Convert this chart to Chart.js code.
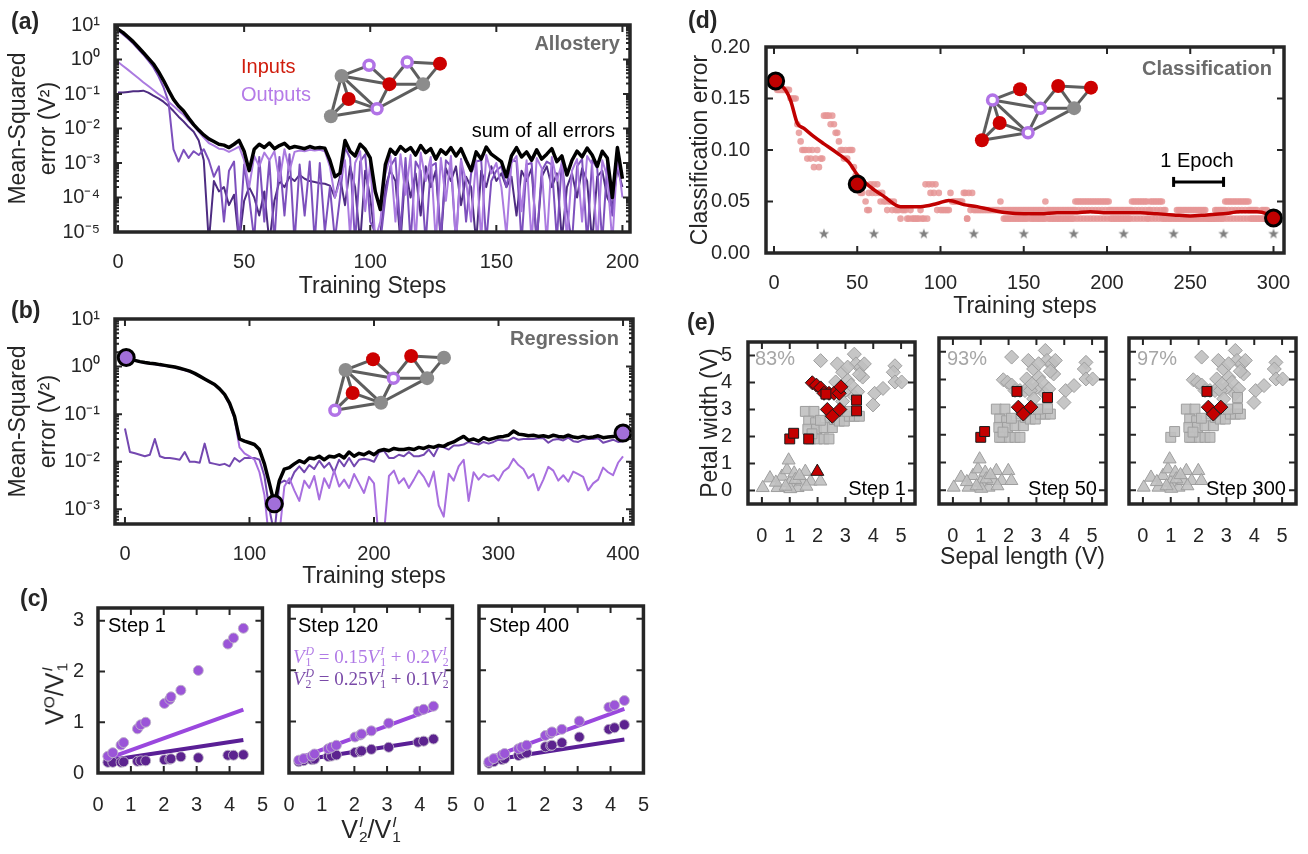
<!DOCTYPE html>
<html>
<head>
<meta charset="utf-8">
<script src="https://cdn.jsdelivr.net/npm/chart.js@4.4.1/dist/chart.umd.min.js"></script>
<style>
body{margin:0;background:#fff;width:1308px;height:854px;position:relative;overflow:hidden;font-family:"Liberation Sans",Arial,sans-serif;color:#262626}
canvas{position:absolute}
.t{position:absolute;white-space:nowrap;line-height:1}
.ss{display:inline-flex;flex-direction:column;font-size:0.62em;line-height:0.95;vertical-align:0.7em;margin-left:1px}
.eq{font-family:"Liberation Serif","DejaVu Serif",serif;font-size:19px}
</style>
</head>
<body>
<script>
// ---------- (a) allostery: errors every 2 training steps ----------
const sumA = [7.5,6,4.5,3.3,2.3,1.6,1.1,0.75,0.45,0.25,
  0.13,0.07,0.045,0.032,0.02,0.013,0.009,0.0065,0.005,0.0042,
  0.0035,0.0033,0.0028,0.0035,0.0045,0.0022,0.0006,0.0025,0.0035,0.0028,
  0.0038,0.0026,0.0032,0.0037,0.0027,0.003,0.0028,0.0026,0.003,0.0027,
  0.0028,0.0027,0.0012,0.0004,0.0005,0.0045,0.0022,0.0016,0.0035,0.0025,
  0.0014,0.00015,0.000045,0.0009,0.0025,0.0018,0.003,0.0022,0.0028,0.0017,
  0.0032,0.002,0.0026,0.0013,0.0024,0.0018,0.0028,0.0016,0.0026,0.0012,
  0.0006,0.0021,0.0013,0.0029,0.0018,0.0014,0.0011,0.0004,0.0016,0.0028,
  0.0015,0.0021,0.0012,0.0024,0.0013,0.0018,0.0026,0.0011,0.0016,0.00045,
  0.0012,0.0022,0.0015,0.0027,0.0017,0.0008,0.0022,0.0014,0.0001,0.0028,
  0.00035];
const lightA = [0.85,0.65,0.5,0.38,0.29,0.22,0.17,0.13,0.1,0.08,
  0.06,0.045,0.033,0.025,0.017,0.012,0.008,0.0055,0.0038,0.0032,
  0.0026,0.0025,0.0021,0.0025,0.003,0.0012,0.0002,0.0016,0.0008,0.002,
  0.0012,0.0022,0.0003,0.0025,0.0006,0.0021,0.0023,0.0022,0.0024,0.0023,
  0.0024,0.0022,0.0008,0.0001,0.0003,0.0012,0.000008,0.001,0.0022,0.00004,
  0.001,0.000006,0.00002,0.0005,0.0016,0.00002,0.0018,0.00012,0.0017,0.000005,
  0.002,0.0003,0.0015,0.000005,0.0014,0.00008,0.0016,0.000004,0.0012,0.0003,
  0.00002,0.0012,0.000006,0.0017,0.0005,0.001,0.0002,0.000008,0.001,0.0016,
  0.00004,0.0012,0.000005,0.0014,0.0007,0.000005,0.0015,0.0003,0.001,0.000006,
  0.0006,0.0013,0.00002,0.0016,0.0009,0.000005,0.0012,0.0004,0.000005,0.0015,
  0.0001];
const midA = [7,5.3,4,2.9,2,1.4,0.92,0.6,0.33,0.16,
  0.06,0.0025,0.0011,0.0024,0.0014,0.0022,0.0017,0.0025,0.0012,0.0004,
  0.0008,0.00002,0.0006,0.0011,0.000005,0.0009,0.0001,0.000006,0.0015,0.00002,
  0.0012,0.000005,0.0015,0.00003,0.0018,0.000005,0.0009,0.00003,0.0011,0.000005,
  0.001,0.00001,0.0002,0.000006,0.0001,0.0028,0.0014,0.000005,0.0011,0.0018,
  0.00002,0.00001,0.000005,0.0001,0.0008,0.0014,0.00001,0.0014,0.000005,0.0011,
  0.0006,0.000005,0.0008,0.001,0.000006,0.0012,0.0008,0.000005,0.0013,0.00002,
  0.0005,0.0011,0.0012,0.000005,0.0003,0.0006,0.0008,0.0002,0.0012,0.0011,
  0.000005,0.0009,0.001,0.000005,0.0006,0.0011,0.0009,0.000006,0.0012,0.00004,
  0.000005,0.0008,0.0013,0.000005,0.0012,0.0007,0.000005,0.001,0.00003,0.0012,
  0.0005];
const darkA = [0.11,0.11,0.115,0.12,0.12,0.125,0.11,0.09,0.075,0.06,
  0.045,0.032,0.022,0.016,0.011,0.008,0.0045,0.0012,0.000005,0.0003,
  0.00015,0.0002,0.00006,0.00012,0.000005,0.00008,0.0002,0.0001,0.00003,0.00015,
  0.000005,0.00008,0.0003,0.0002,0.0004,0.0003,0.00045,0.00035,0.0003,0.00028,
  0.00026,0.00025,0.00022,0.0001,0.0004,0.00006,0.0008,0.0002,0.000005,0.0006,
  0.0001,0.000005,0.000008,0.0002,0.0006,0.0003,0.000005,0.0007,0.0001,0.0005,
  0.00003,0.0008,0.0002,0.0006,0.000005,0.0007,0.0003,0.0008,0.00006,0.0004,
  0.0002,0.000005,0.0006,0.0002,0.0008,0.0003,0.0005,0.0002,0.0004,0.00003,
  0.0006,0.0003,0.0007,0.000005,0.0004,0.0008,0.0002,0.0005,0.000006,0.0002,
  0.0005,0.0001,0.0007,0.0003,0.000005,0.0004,0.0006,0.0001,0.00005,0.0007,
  0.0002];

// ---------- (b) regression: errors every 4 training steps ----------
const sumB = [1.6,1.45,1.35,1.27,1.22,1.18,1.15,1.1,1.06,1.02,
  0.98,0.92,0.86,0.8,0.72,0.63,0.55,0.48,0.42,0.34,
  0.26,0.17,0.09,0.03,0.027,0.025,0.023,0.018,0.009,0.0035,
  0.0013,0.004,0.007,0.0075,0.009,0.0105,0.0095,0.012,0.0115,0.013,
  0.011,0.013,0.0125,0.014,0.012,0.016,0.013,0.015,0.014,0.016,
  0.014,0.017,0.018,0.017,0.019,0.018,0.018,0.019,0.018,0.02,
  0.019,0.021,0.02,0.022,0.021,0.024,0.026,0.03,0.034,0.028,
  0.03,0.027,0.032,0.029,0.031,0.033,0.034,0.036,0.044,0.038,
  0.037,0.035,0.036,0.034,0.035,0.033,0.036,0.034,0.033,0.036,
  0.033,0.032,0.034,0.032,0.033,0.035,0.032,0.033,0.034,0.035,
  0.04];
const lightB = [1.57,1.42,1.32,1.24,1.19,1.15,1.12,1.07,1.04,1.0,
  0.96,0.9,0.84,0.78,0.7,0.62,0.54,0.47,0.41,0.33,
  0.25,0.16,0.08,0.02,0.015,0.013,0.011,0.006,0.002,0.0002,
  0.0001,0.0003,0.003,0.0045,0.0025,0.0015,0.004,0.0028,0.005,0.0016,
  0.0045,0.0028,0.0065,0.003,0.0042,0.0028,0.0055,0.0035,0.0022,0.0048,
  0.0035,0.0002,0.0003,0.005,0.0065,0.0035,0.0045,0.0028,0.0042,0.0065,
  0.0048,0.003,0.0062,0.0012,0.0007,0.0056,0.004,0.008,0.011,0.0015,
  0.006,0.0042,0.0055,0.0048,0.0052,0.004,0.0062,0.0075,0.0115,0.0085,
  0.007,0.0045,0.0055,0.0025,0.0042,0.0078,0.0065,0.004,0.0052,0.0038,
  0.0062,0.0055,0.0048,0.0025,0.0035,0.0042,0.0075,0.006,0.0052,0.0095,
  0.013];
const darkB = [0.05,0.016,0.015,0.014,0.013,0.014,0.03,0.013,0.012,0.012,
  0.0115,0.011,0.016,0.01,0.01,0.0095,0.024,0.0095,0.009,0.0085,
  0.009,0.008,0.012,0.01,0.012,0.012,0.012,0.011,0.005,0.001,
  0.0003,0.0035,0.004,0.0035,0.006,0.008,0.006,0.0085,0.007,0.0105,
  0.0075,0.0095,0.006,0.011,0.008,0.012,0.008,0.011,0.0115,0.011,
  0.01,0.016,0.017,0.012,0.012,0.014,0.013,0.016,0.013,0.013,
  0.014,0.018,0.013,0.021,0.02,0.018,0.022,0.022,0.023,0.026,
  0.024,0.023,0.026,0.024,0.026,0.029,0.028,0.028,0.032,0.029,
  0.03,0.03,0.03,0.031,0.031,0.025,0.029,0.03,0.028,0.032,
  0.027,0.026,0.029,0.03,0.03,0.031,0.025,0.027,0.029,0.026,
  0.027];
const markStepsB = [1, 120, 400];
const markErrB = [1.55, 0.0013, 0.04];

// ---------- (c) output ratios vs input ratio ----------
const ratioC = [0.3,0.45,0.7,0.78,1.2,1.3,1.45,2.02,2.18,2.22,2.52,3.05,3.95,4.12,4.42];
const out1Step1 = [0.33,0.4,0.55,0.6,0.87,0.95,1.0,1.37,1.45,1.5,1.63,2.02,2.54,2.66,2.85];
const out2Step1 = [0.21,0.21,0.21,0.22,0.23,0.24,0.24,0.26,0.27,0.28,0.32,0.3,0.35,0.35,0.36];
const out1Step120 = [0.25,0.28,0.33,0.37,0.47,0.5,0.54,0.7,0.74,0.76,0.82,0.97,1.2,1.24,1.3];
const out2Step120 = [0.22,0.24,0.26,0.27,0.32,0.33,0.35,0.4,0.42,0.43,0.46,0.5,0.6,0.62,0.66];
const out1Step400 = [0.22,0.28,0.35,0.38,0.47,0.5,0.54,0.73,0.77,0.8,0.85,1.01,1.28,1.32,1.41];
const out2Step400 = [0.19,0.22,0.26,0.28,0.34,0.37,0.39,0.51,0.53,0.54,0.59,0.7,0.85,0.88,0.94];
const targetX = [0.35, 4.42];
const target1 = [0.3, 1.25];
const target2 = [0.25, 0.65];

// ---------- (d) classification: misclassified of 120 per step ----------
const testSize = 120;
const wrongA = [
  20,20,19,19,19,19,19,19,19,19,18,18,18,18,15,14,13,12,12,12,11,12,11,12,10,11,12,10,11,11,
  16,16,16,16,15,16,15,14,14,13,12,12,11,12,11,12,12,12,10,9,8,8,7,7,8,6,5,7,8,7,
  8,7,8,7,6,7,6,6,5,6,6,5,6,5,5,5,4,5,5,5,4,4,5,4,4,4,4,4,5,4,
  4,8,4,8,7,8,7,8,5,7,5,5,5,5,5,5,7,6,6,6,6,6,6,6,7,7,4,7,5,7,
  5,5,5,5,5,5,5,5,5,5,5,5,5,5,5,5,6,5,5,5,5,5,5,5,5,5,5,5,5,5,
  5,5,5,5,5,5,5,5,5,5,5,5,5,6,5,5,5,5,5,5,5,5,5,5,5,5,5,5,5,5,
  5,6,6,6,6,6,6,6,6,6,6,6,6,6,6,6,6,6,6,6,6,6,5,5,5,5,5,5,5,5,
  5,5,5,5,5,6,6,6,6,6,6,6,6,6,6,5,6,6,6,6,6,6,6,6,5,5,4,4,4,4,
  4,4,5,5,5,5,5,5,5,5,5,5,5,5,5,5,5,5,5,5,4,4,4,4,4,5,5,5,5,5,
  5,6,6,6,6,6,6,6,6,6,6,6,6,6,6,6,5,5,5,5,5,4,4,4,4,4,4,4,4,4,4];
const N = null;
const wrongB = [
  N,N,N,N,N,N,N,N,N,N,N,N,N,N,N,N,N,N,N,N,N,N,N,N,N,N,N,N,N,N,
  N,N,N,N,N,N,N,N,N,N,N,N,N,N,N,N,N,N,N,N,N,N,N,N,N,N,N,5,N,N,
  N,N,N,N,N,N,N,N,N,N,N,N,N,N,N,N,N,N,N,N,N,N,N,N,N,N,N,N,N,N,
  N,N,N,N,N,N,N,N,N,N,N,N,N,N,N,N,N,N,N,N,N,N,N,N,N,N,4,N,N,N,
  N,N,N,N,N,N,N,N,N,N,N,N,N,N,N,N,N,N,4,4,4,4,4,4,4,4,4,4,4,4,
  4,4,4,N,4,4,4,4,4,4,4,4,4,4,N,4,4,4,4,4,4,4,4,4,4,4,4,4,4,4,
  4,5,4,5,4,5,4,5,4,5,4,5,4,5,4,5,4,5,4,5,4,5,4,4,4,4,4,4,4,4,
  4,4,4,4,4,5,4,5,4,5,4,5,4,5,4,4,5,4,5,4,5,4,5,4,4,4,N,N,N,N,
  N,N,4,4,4,4,4,4,4,4,4,4,4,4,4,4,4,4,4,4,N,4,4,N,4,4,4,4,4,4,
  4,5,4,5,4,5,4,5,4,5,4,5,4,5,4,5,4,4,4,4,4,N,N,5,5,5,5,N,N,N,N];
const avgSteps = [0,3,7,10,14,18,24,30,38,45,50,58,66,76,88,98,105,114,122,130,140,150,160,170,180,190,200,210,220,230,240,250,260,270,280,290,296,300];
const avgErr = [0.167,0.164,0.158,0.148,0.126,0.121,0.113,0.106,0.097,0.088,0.076,0.064,0.055,0.045,0.045,0.048,0.051,0.047,0.045,0.042,0.039,0.038,0.038,0.039,0.039,0.04,0.039,0.039,0.039,0.038,0.037,0.036,0.037,0.038,0.04,0.04,0.038,0.034];
const markStepsD = [1, 50, 300];
const markErrD = [0.167, 0.067, 0.034];
const epochSteps = [30,60,90,120,150,180,210,240,270,300];
const epochStarErr = [0.019,0.019,0.019,0.019,0.019,0.019,0.019,0.019,0.019,0.019];
const epochBarSteps = [240, 270];
const epochBarErr = [0.069, 0.069];

// ---------- (e) iris scatter, voltages ----------
const triX = [0.03,0.29,0.56,0.72,0.9,0.96,1.0,1.16,1.28,1.44,1.56,1.75,1.99,2.1,1.02,0.5,1.2,0.85,1.6,1.35];
const triY = [0.1,0.46,0.1,0.52,0.76,1.12,0.28,0.64,0.1,0.34,0.7,0.34,0.7,0.34,0.06,0.3,0.4,0.15,0.15,0.55];
const sqX = [1.56,1.87,1.68,1.93,1.65,1.96,2.23,1.75,1.99,2.23,2.41,2.53,2.6,2.78,2.96,3.14,3.32,3.5,3.08,1.0,1.14,1.68,3.4,3.4,2.3,1.8,2.1,2.45];
const sqY = [2.93,2.93,2.57,2.51,2.27,2.27,2.33,1.91,1.91,1.91,1.91,2.33,2.63,2.57,2.57,2.75,2.75,2.75,2.93,1.91,2.12,1.91,3.35,2.95,3.57,2.1,2.6,2.75];
const diaX = [2.11,2.71,2.9,3.08,3.32,3.38,3.56,3.62,2.65,2.78,3.02,3.2,3.32,3.44,4.05,3.99,4.35,4.78,4.72,4.78,5.02,3.08,3.68,1.81,1.96,2.11,2.23,2.41,2.59,2.78,2.84,2.35,2.53,2.8,3.5,2.9];
const diaY = [4.81,4.69,4.38,4.08,5.05,4.69,4.57,4.2,4.02,3.66,3.72,3.9,3.48,3.66,3.6,3.17,3.78,4.62,4.38,4.02,4.02,4.57,4.69,3.99,3.9,3.8,3.6,3.6,3.6,3.6,3.84,3.0,2.75,3.0,4.3,3.3];
const wrongTri1 = [12], wrongSq1 = [19,20,21,22,23,24], wrongDia1 = [23,24,25,26,27,28,29,30,31,32,33];
const wrongTri50 = [], wrongSq50 = [19,20,22,24], wrongDia50 = [31,32,33];
const wrongTri300 = [], wrongSq300 = [24], wrongDia300 = [31,32,33];

// ---------- network insets ----------
const netX = [16,47,90,127,70,108,24,56,4];
const netY = [21,8,4,6,31,31,49,61,70];
const netEdges = [[0,1],[1,4],[0,4],[0,6],[0,7],[0,8],[8,6],[8,7],[6,7],[4,7],[4,2],[2,5],[4,5],[2,3],[3,5],[7,5]];
const rolesA = ['h','o','o','i','i','h','i','o','h'];
const rolesB = ['h','i','i','h','o','h','i','h','o'];
const rolesD = ['o','i','i','i','o','h','i','o','i'];

// ---------- helpers ----------
Chart.defaults.font.family = '"Liberation Sans", Arial, sans-serif';
Chart.defaults.color = '#262626';

const range = (a, b, s) => { const r = []; for (let v = a; v <= b; v += s) r.push(v); return r; };
const pts = (xs, ys) => xs.map((x, i) => ({x, y: ys[i]})).filter(p => p.y != null);
const isPow10 = v => { const e = Math.log10(v); return Math.abs(e - Math.round(e)) < 1e-6; };
const SUP = {'-': '⁻', '0': '⁰', '1': '¹', '2': '²', '3': '³', '4': '⁴', '5': '⁵', '6': '⁶', '7': '⁷', '8': '⁸', '9': '⁹'};
const powLabel = v => isPow10(v) ? '10' + String(Math.round(Math.log10(v))).split('').map(c => SUP[c]).join('') : '';
const logTicks = (lo, hi, min) => {
  const out = [];
  for (let e = lo; e < hi; e++) for (let m = 1; m < 10; m++) out.push(m * Math.pow(10, e));
  out.push(Math.pow(10, hi));
  return out.filter(v => v >= min);
};

// inward MATLAB style ticks plus the box
const frameTicks = {
  id: 'frameTicks',
  afterDatasetsDraw(chart) {
    const {ctx, chartArea: a} = chart;
    const xs = chart.scales.x, ys = chart.scales.y;
    ctx.save();
    ctx.strokeStyle = '#262626';
    ctx.lineWidth = 2;
    ctx.beginPath();
    xs.ticks.forEach(t => {
      const p = xs.getPixelForValue(t.value), l = t.minor ? 4 : 7;
      ctx.moveTo(p, a.bottom); ctx.lineTo(p, a.bottom - l);
      ctx.moveTo(p, a.top); ctx.lineTo(p, a.top + l);
    });
    ys.ticks.forEach(t => {
      const p = ys.getPixelForValue(t.value), l = t.minor ? 4 : 7;
      ctx.moveTo(a.left, p); ctx.lineTo(a.left + l, p);
      ctx.moveTo(a.right, p); ctx.lineTo(a.right - l, p);
    });
    ctx.stroke();
    ctx.lineWidth = 3.5;
    ctx.strokeRect(a.left, a.top, a.right - a.left, a.bottom - a.top);
    ctx.restore();
  }
};

function axis(o) {
  return {
    type: o.type || 'linear', min: o.min, max: o.max,
    grid: {display: false}, border: {display: false},
    afterBuildTicks: s => { s.ticks = o.ticks.map(v => ({value: v, minor: o.type === 'logarithmic' && !isPow10(v)})); },
    afterFit: s => { if (s.isHorizontal()) s.height = o.size; else s.width = o.size; },
    ticks: {display: o.labels !== false, autoSkip: false, maxRotation: 0, padding: o.pad == null ? 8 : o.pad,
      font: {size: 20}, color: '#262626', callback: o.fmt || (v => String(v))},
    title: o.title ? {display: true, text: o.title, color: '#262626', padding: o.tpad || 0,
      font: {size: 23, lineHeight: o.lh || 1.15}} : {display: false}
  };
}

function makeCanvas(x, y, w, h) {
  const cv = document.createElement('canvas');
  cv.width = w; cv.height = h;
  cv.style.left = x + 'px'; cv.style.top = y + 'px';
  document.body.appendChild(cv);
  return cv;
}

function framePlot(box, datasets, xAxis, yAxis) {
  return new Chart(makeCanvas(box.x, box.y, box.w, box.h), {
    type: 'scatter',
    data: {datasets},
    options: {
      responsive: false, animation: false, devicePixelRatio: 1, events: [],
      layout: {padding: {left: 0, top: box.pt, right: box.pr, bottom: 0}},
      plugins: {legend: {display: false}, tooltip: {enabled: false}},
      scales: {x: axis(xAxis), y: axis(yAxis)}
    },
    plugins: [frameTicks]
  });
}

const lineSet = (xs, ys, color, width, order) => ({data: pts(xs, ys), showLine: true, borderColor: color,
  borderWidth: width, pointRadius: 0, order, borderJoinStyle: 'round'});
const dotSet = (xs, ys, color, r, order, extra) => Object.assign({data: pts(xs, ys), showLine: false,
  pointRadius: r, backgroundColor: color, borderWidth: 0, order}, extra || {});

function note(html, x, y, style, align) {
  const d = document.createElement('div');
  d.className = 't';
  d.innerHTML = html;
  d.style.cssText += style;
  d.style.left = x + 'px';
  d.style.top = y + 'px';
  const tx = align === 'r' ? '-100%' : (align === 'c' || align === 'rot') ? '-50%' : '0';
  d.style.transform = `translate(${tx}, -50%)` + (align === 'rot' ? ' rotate(-90deg)' : '');
  document.body.appendChild(d);
}

// ---------- (a) ----------
const stepsA = range(0, 200, 2);
framePlot({x: 0, y: 0, w: 660, h: 300, pt: 25, pr: 30}, [
  lineSet(stepsA, sumA, '#000000', 3.5, 0),
  lineSet(stepsA, midA, '#7d50bd', 2, 2),
  lineSet(stepsA, lightA, '#ab7be0', 2, 1),
  lineSet(stepsA, darkA, '#4e2c82', 2, 3)
], {min: -1.2, max: 203, ticks: [0, 50, 100, 150, 200], size: 68, pad: 10, title: 'Training Steps'},
   {type: 'logarithmic', min: 1e-5, max: 10, ticks: logTicks(-5, 1, 1e-5), size: 115, pad: 7, fmt: powLabel,
    title: ['Mean-Squared', 'error (V²)'], lh: 1.3, tpad: 4});

// ---------- (b) ----------
const stepsB = range(0, 400, 4);
framePlot({x: 0, y: 300, w: 660, h: 290, pt: 16, pr: 27}, [
  dotSet(markStepsB, markErrB, '#a16fd9', 8, 0, {borderColor: '#000', borderWidth: 3, clip: false}),
  lineSet(stepsB, sumB, '#000000', 3.5, 1),
  lineSet(stepsB, lightB, '#a86fdf', 2, 2),
  lineSet(stepsB, darkB, '#7448b0', 2, 3)
], {min: -8, max: 408, ticks: [0, 100, 200, 300, 400], size: 66, pad: 10, title: 'Training steps'},
   {type: 'logarithmic', min: 4.9e-4, max: 10, ticks: logTicks(-4, 1, 4.9e-4), size: 115, pad: 7, fmt: powLabel,
    title: ['Mean-Squared', 'error (V²)'], lh: 1.3, tpad: 4});

// ---------- (c) ----------
function ratioSets(o1, o2) {
  const edge = {borderColor: 'rgba(190,180,200,0.9)', borderWidth: 1};
  return [
    dotSet(ratioC, o1, '#9b55d8', 5, 0, edge),
    dotSet(ratioC, o2, '#5c238f', 5, 1, edge),
    lineSet(targetX, target1, '#9a48de', 4, 2),
    lineSet(targetX, target2, '#5a1f96', 4, 3)
  ];
}
const cx = {min: 0, max: 5, ticks: [0, 1, 2, 3, 4, 5], size: 81, pad: 12};
framePlot({x: 0, y: 590, w: 280, h: 264, pt: 16, pr: 13}, ratioSets(out1Step1, out2Step1), cx,
  {min: 0, max: 3.25, ticks: [0, 1, 2, 3], size: 98, pad: 6});
framePlot({x: 270, y: 590, w: 200, h: 264, pt: 16, pr: 14}, ratioSets(out1Step120, out2Step120), cx,
  {min: 0, max: 3.25, ticks: [0, 1, 2, 3], size: 19, labels: false});
framePlot({x: 460, y: 590, w: 201, h: 264, pt: 16, pr: 14}, ratioSets(out1Step400, out2Step400), cx,
  {min: 0, max: 3.25, ticks: [0, 1, 2, 3], size: 19, labels: false});

// ---------- (d) ----------
const starImg = document.createElement('canvas');
starImg.width = 12; starImg.height = 12;
{
  const g = starImg.getContext('2d');
  g.fillStyle = '#808080';
  g.beginPath();
  for (let i = 0; i < 10; i++) {
    const r = i % 2 ? 2.2 : 5.5, a = -Math.PI / 2 + i * Math.PI / 5;
    g.lineTo(6 + r * Math.cos(a), 6.5 + r * Math.sin(a));
  }
  g.closePath(); g.fill();
}
const stepsD = range(0, 300, 1);
framePlot({x: 680, y: 0, w: 628, h: 320, pt: 47, pr: 24}, [
  dotSet(markStepsD, markErrD, '#c00000', 8, 0, {borderColor: '#000', borderWidth: 3, clip: false}),
  Object.assign(lineSet(epochBarSteps, epochBarErr, '#000', 3, 0),
    {pointStyle: 'line', pointRotation: 90, pointRadius: 5, pointBorderWidth: 3, pointBorderColor: '#000'}),
  Object.assign(lineSet(avgSteps, avgErr, '#c00000', 3.5, 1), {cubicInterpolationMode: 'monotone'}),
  dotSet(epochSteps, epochStarErr, '#808080', 6, 2, {pointStyle: starImg}),
  dotSet(stepsD, wrongA.map(c => c / testSize), 'rgba(230,150,150,0.85)', 3.3, 3),
  dotSet(stepsD, wrongB.map(c => c == null ? null : c / testSize), 'rgba(230,150,150,0.85)', 3.3, 4)
], {min: -4.8, max: 306.3, ticks: [0, 50, 100, 150, 200, 250, 300], size: 67, pad: 10, title: 'Training steps'},
   {min: 0, max: 0.2, ticks: [0, 0.05, 0.1, 0.15, 0.2], size: 86, pad: 8, fmt: v => v.toFixed(2),
    title: 'Classification error', tpad: 7});

// ---------- (e) ----------
function irisSets(wTri, wSq, wDia) {
  const sets = [];
  const add = (xs, ys, wrong, style, r) => {
    const gray = [], red = [];
    xs.forEach((x, i) => (wrong.includes(i) ? red : gray).push({x, y: ys[i]}));
    sets.push({data: gray, pointStyle: style, pointRadius: r, backgroundColor: 'rgba(192,192,192,0.9)',
      borderColor: '#9e9e9e', borderWidth: 1, order: 2});
    sets.push({data: red, pointStyle: style, pointRadius: r, backgroundColor: '#c40000',
      borderColor: '#1a1a1a', borderWidth: 1, order: 1});
  };
  add(triX, triY, wTri, 'triangle', 7.5);
  add(sqX, sqY, wSq, 'rect', 7);
  add(diaX, diaY, wDia, 'rectRot', 7);
  return sets;
}
const ex = {min: -0.5, max: 5.5, ticks: [0, 1, 2, 3, 4, 5], size: 67, pad: 12};
framePlot({x: 690, y: 322, w: 235, h: 249, pt: 16, pr: 10}, irisSets(wrongTri1, wrongSq1, wrongDia1), ex,
  {min: -0.5, max: 5.5, ticks: [0, 1, 2, 3, 4, 5], size: 58, pad: 8, title: 'Petal width (V)', tpad: 7});
framePlot({x: 925, y: 322, w: 191, h: 249, pt: 16, pr: 10}, irisSets(wrongTri50, wrongSq50, wrongDia50),
  Object.assign({}, ex, {title: 'Sepal length (V)'}),
  {min: -0.5, max: 5.5, ticks: [0, 1, 2, 3, 4, 5], size: 14, labels: false});
framePlot({x: 1115, y: 322, w: 193, h: 249, pt: 16, pr: 12}, irisSets(wrongTri300, wrongSq300, wrongDia300), ex,
  {min: -0.5, max: 5.5, ticks: [0, 1, 2, 3, 4, 5], size: 14, labels: false});

// ---------- network insets ----------
function network(ox, oy, roles) {
  const sets = netEdges.map(([p, q]) => lineSet([netX[p], netX[q]], [netY[p], netY[q]], '#5e5e5e', 3, 2));
  const pick = r => netX.map((x, i) => roles[i] === r ? {x, y: netY[i]} : null).filter(Boolean);
  sets.push({data: pick('h'), pointRadius: 7, backgroundColor: '#8c8c8c', borderColor: '#8c8c8c', borderWidth: 0, order: 0});
  sets.push({data: pick('i'), pointRadius: 7, backgroundColor: '#cc0000', borderColor: '#cc0000', borderWidth: 0, order: 0});
  sets.push({data: pick('o'), pointRadius: 5, backgroundColor: '#ffffff', borderColor: '#b173e6', borderWidth: 3.5, order: 0});
  new Chart(makeCanvas(ox - 10, oy - 10, 150, 95), {
    type: 'scatter',
    data: {datasets: sets},
    options: {
      responsive: false, animation: false, devicePixelRatio: 1, events: [],
      layout: {padding: 0},
      plugins: {legend: {display: false}, tooltip: {enabled: false}},
      scales: {x: {display: false, min: -10, max: 140}, y: {display: false, min: -10, max: 85, reverse: true}}
    }
  });
}
network(320, 52, rolesA);
network(324, 346, rolesB);
network(971, 76, rolesD);

// ---------- annotations ----------
const bold = 'font-weight:bold;font-size:23px;';
note('(a)', 11, 21, bold);
note('(b)', 11, 310, bold);
note('(c)', 20, 598, bold);
note('(d)', 688, 20, bold);
note('(e)', 687, 322, bold);
const tag = 'font-weight:bold;font-size:20px;color:#6b6b6b;';
note('Allostery', 620, 43, tag, 'r');
note('Regression', 619, 338, tag, 'r');
note('Classification', 1272, 68, tag, 'r');
note('Inputs', 241, 66, 'font-size:20px;color:#d01c0c;');
note('Outputs', 241, 94, 'font-size:20px;color:#b57be8;');
note('sum of all errors', 615, 130, 'font-size:20px;color:#000;', 'r');
note('1 Epoch', 1197, 160, 'font-size:20px;color:#000;', 'c');
note('Step 1', 108, 625, 'font-size:20px;color:#000;');
note('Step 120', 298, 625, 'font-size:20px;color:#000;');
note('Step 400', 489, 625, 'font-size:20px;color:#000;');
const st = (a, b) => `<span class="ss"><i>${a}</i><span>${b}</span></span>`;
note(`<span class="eq"><i>V</i>${st('D', 1)} = 0.15<i>V</i>${st('I', 1)} + 0.2<i>V</i>${st('I', 2)}</span>`, 293, 657, 'color:#b07ae6;');
note(`<span class="eq"><i>V</i>${st('D', 2)} = 0.25<i>V</i>${st('I', 1)} + 0.1<i>V</i>${st('I', 2)}</span>`, 293, 679, 'color:#7a4aa8;');
note(`V<sup style="font-size:0.62em">O</sup>/V${st('I', 1)}`, 55, 694, 'font-size:25px;', 'rot');
note(`V${st('I', 2)}/V${st('I', 1)}`, 371, 830, 'font-size:25px;', 'c');
const pct = 'font-size:20px;color:#a6a6a6;';
note('83%', 755, 358, pct);
note('93%', 947, 358, pct);
note('97%', 1137, 358, pct);
const stp = 'font-size:20px;color:#000;';
note('Step 1', 906, 488, stp, 'r');
note('Step 50', 1097, 488, stp, 'r');
note('Step 300', 1286, 488, stp, 'r');
</script>
</body>
</html>
